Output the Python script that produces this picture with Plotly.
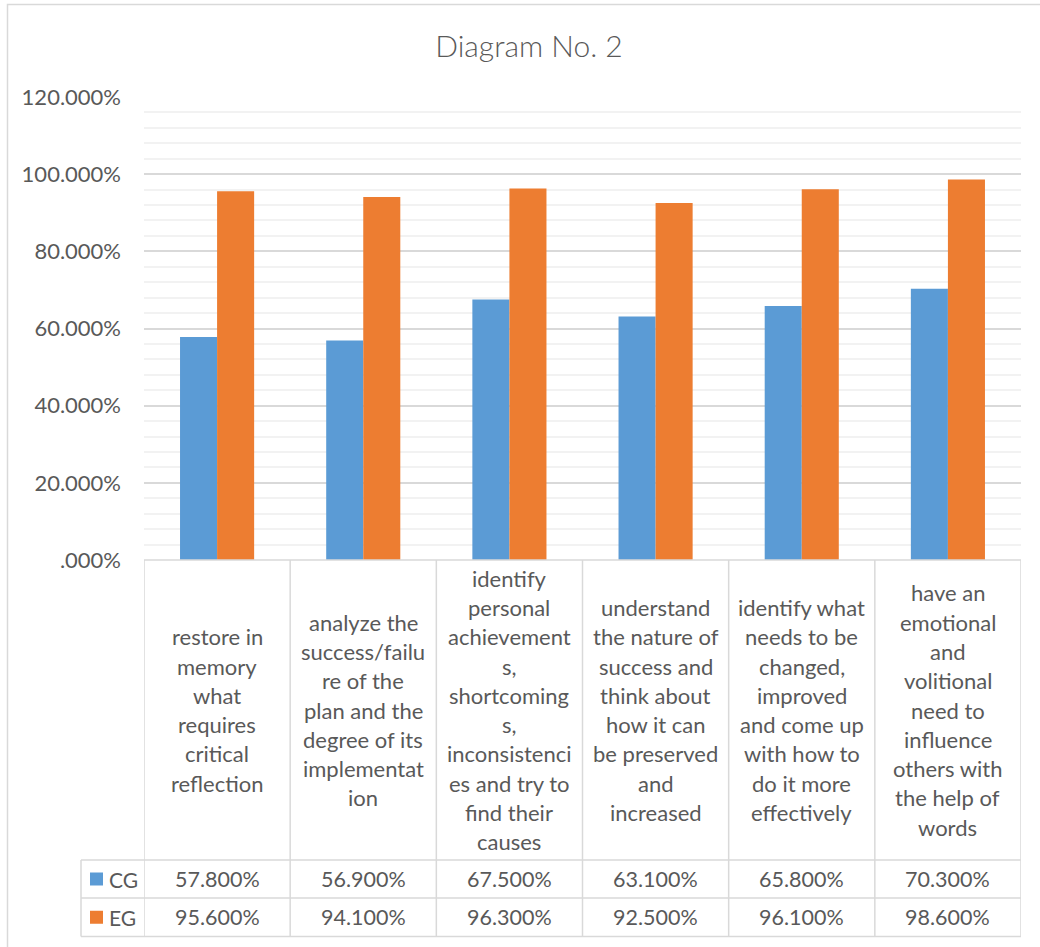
import plotly.graph_objects as go

# ---------------- data ----------------
categories = [
    "restore in memory what requires critical reflection",
    "analyze the success/failure of the plan and the degree of its implementation",
    "identify personal achievements, shortcomings, inconsistencies and try to find their causes",
    "understand the nature of success and think about how it can be preserved and increased",
    "identify what needs to be changed, improved and come up with how to do it more effectively",
    "have an emotional and volitional need to influence others with the help of words",
]
category_lines = [
    ["restore in", "memory", "what", "requires", "critical", "reflection"],
    ["analyze the", "success/failu", "re of the", "plan and the", "degree of its", "implementat", "ion"],
    ["identify", "personal", "achievement", "s,", "shortcoming", "s,", "inconsistenci", "es and try to", "find their", "causes"],
    ["understand", "the nature of", "success and", "think about", "how it can", "be preserved", "and", "increased"],
    ["identify what", "needs to be", "changed,", "improved", "and come up", "with how to", "do it more", "effectively"],
    ["have an", "emotional", "and", "volitional", "need to", "influence", "others with", "the help of", "words"],
]
series_names = ["CG", "EG"]
cg_values = [0.578, 0.569, 0.675, 0.631, 0.658, 0.703]
eg_values = [0.956, 0.941, 0.963, 0.925, 0.961, 0.986]
cg_labels = ["57.800%", "56.900%", "67.500%", "63.100%", "65.800%", "70.300%"]
eg_labels = ["95.600%", "94.100%", "96.300%", "92.500%", "96.100%", "98.600%"]
y_tickvals = [0, 0.2, 0.4, 0.6, 0.8, 1.0, 1.2]
y_ticktext = [".000%", "20.000%", "40.000%", "60.000%", "80.000%", "100.000%", "120.000%"]
title_text = "Diagram No. 2"

# ---------------- style ----------------
BLUE = "#5B9BD5"
ORANGE = "#ED7D31"
TXT = "#595959"
GRID = "#D9D9D9"
MINOR = "#F2F2F2"
FONT = "Lato"

W, H = 1040, 947
PL, PR, PT, PB = 144, 1021, 97, 560  # plot area in pixels


def py(p):  # pixel y -> paper
    return (PB - p) / (PB - PT)


def px(p):  # pixel x -> paper
    return (p - PL) / (PR - PL)


xs = list(range(len(categories)))

fig = go.Figure()
fig.add_trace(go.Bar(x=xs, y=cg_values, name=series_names[0], marker=dict(color=BLUE, line=dict(width=0))))
fig.add_trace(go.Bar(x=xs, y=eg_values, name=series_names[1], marker=dict(color=ORANGE, line=dict(width=0))))

shapes = []
annotations = []

# outer chart border (top & left visible)
shapes.append(dict(type="rect", xref="paper", yref="paper",
                   x0=px(7.5), x1=px(1060), y0=py(960), y1=py(4.5),
                   line=dict(color="#D9D9D9", width=1.5), fillcolor="rgba(0,0,0,0)", layer="below"))

# table lines
row_top, row_mid, row_bot = 860, 898, 936.5
leg_left = 81
lc = dict(color=GRID, width=1.5)
for i in range(len(categories) + 1):
    shapes.append(dict(type="line", xref="x", yref="paper", x0=i - 0.5, x1=i - 0.5,
                       y0=py(PB), y1=py(row_bot), line=lc))
shapes.append(dict(type="line", xref="paper", yref="paper", x0=px(leg_left), x1=px(leg_left),
                   y0=py(row_top), y1=py(row_bot), line=lc))
for yy in (row_top, row_mid, row_bot):
    shapes.append(dict(type="line", xref="paper", yref="paper", x0=px(leg_left), x1=1,
                       y0=py(yy), y1=py(yy), line=lc))
shapes.append(dict(type="line", xref="paper", yref="paper", x0=0, x1=1,
                   y0=py(PB), y1=py(PB), line=lc))

# category labels (wrapped like in Excel)
line_h = 29.3
center = (PB + row_top) / 2
for i, lines in enumerate(category_lines):
    n = len(lines)
    for k, t in enumerate(lines):
        yy = center + (k - (n - 1) / 2) * line_h
        annotations.append(dict(x=i, y=py(yy), xref="x", yref="paper", text=t, showarrow=False,
                                xanchor="center", yanchor="middle",
                                font=dict(family=FONT, size=22, color=TXT)))

# value rows
for labels, yy in ((cg_labels, (row_top + row_mid) / 2), (eg_labels, (row_mid + row_bot) / 2)):
    for i, t in enumerate(labels):
        annotations.append(dict(x=i, y=py(yy), xref="x", yref="paper", text=t, showarrow=False,
                                xanchor="center", yanchor="middle",
                                font=dict(family=FONT, size=21.5, color=TXT)))

# legend keys in table
for name, col, yy in ((series_names[0], BLUE, (row_top + row_mid) / 2),
                      (series_names[1], ORANGE, (row_mid + row_bot) / 2)):
    shapes.append(dict(type="rect", xref="paper", yref="paper", x0=px(90), x1=px(103),
                       y0=py(yy + 6.5), y1=py(yy - 6.5), fillcolor=col, line=dict(width=0)))
    annotations.append(dict(x=px(107), y=py(yy), xref="paper", yref="paper", text=name, showarrow=False,
                            xanchor="left", yanchor="middle",
                            font=dict(family=FONT, size=21, color=TXT)))

fig.update_layout(
    width=W, height=H,
    margin=dict(l=PL, r=W - PR, t=PT, b=H - PB, pad=0),
    paper_bgcolor="white", plot_bgcolor="white",
    showlegend=False,
    barmode="group", bargap=0.493, bargroupgap=0,
    title=dict(text=title_text, x=529 / W, xref="container", xanchor="center",
               y=1 - 46 / H, yref="container", yanchor="middle",
               font=dict(family=FONT, size=30, color=TXT, weight=300)),
    xaxis=dict(range=[-0.5, len(categories) - 0.5], showticklabels=False, showgrid=False,
               zeroline=False, showline=False, ticks=""),
    yaxis=dict(range=[0, 1.2], tickvals=y_tickvals, ticktext=y_ticktext,
               tickfont=dict(family=FONT, size=22, color=TXT),
               showgrid=True, gridcolor=GRID, gridwidth=1.5, zeroline=False, showline=False,
               ticks="", ticklabelstandoff=22,
               minor=dict(dtick=0.04, showgrid=True, gridcolor=MINOR, gridwidth=1.5, ticks="")),
    shapes=shapes, annotations=annotations,
)

fig.write_html("out.html")
